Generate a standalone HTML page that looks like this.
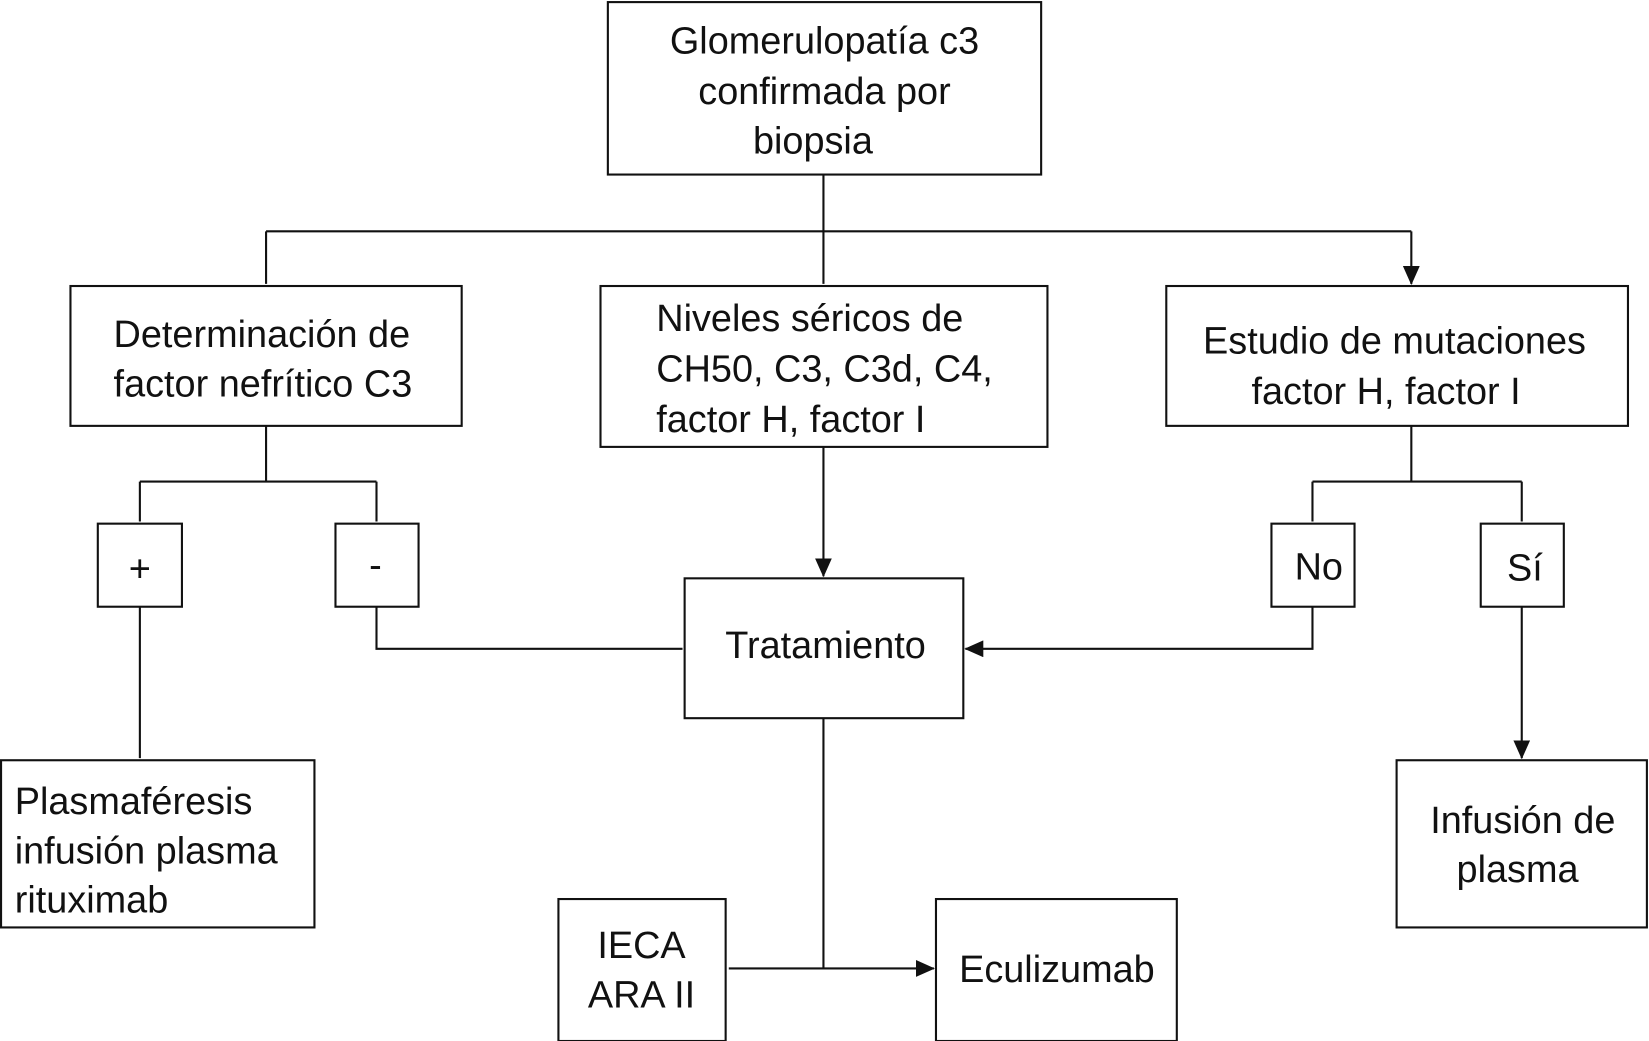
<!DOCTYPE html>
<html><head><meta charset="utf-8"><style>
html,body{margin:0;padding:0;background:#fff;width:1649px;height:1041px;overflow:hidden}
svg{display:block}
text{font-family:"Liberation Sans",Arial,sans-serif;font-size:36px;fill:#111}
</style></head><body>
<svg width="1649" height="1041" viewBox="0 0 1568 990" preserveAspectRatio="none" xmlns="http://www.w3.org/2000/svg">
<defs><marker id="a" markerWidth="10" markerHeight="10" refX="9" refY="5" orient="auto" markerUnits="userSpaceOnUse" viewBox="0 0 10 10"><path d="M0,0 L10,5 L0,10 z" fill="#111"/></marker>
<marker id="b" markerWidth="18" markerHeight="16" refX="17" refY="8" orient="auto" markerUnits="userSpaceOnUse" viewBox="0 0 18 16"><path d="M0,0 L18,8 L0,16 z" fill="#111"/></marker></defs>
<g fill="none" stroke="#111" stroke-width="2">
<rect x="578" y="2" width="412" height="164"/>
<rect x="67" y="272" width="372" height="133"/>
<rect x="571" y="272" width="425" height="153"/>
<rect x="1109" y="272" width="439" height="133"/>
<rect x="93" y="498" width="80" height="79"/>
<rect x="319" y="498" width="79" height="79"/>
<rect x="651" y="550" width="265" height="133"/>
<rect x="1209" y="498" width="79" height="79"/>
<rect x="1408" y="498" width="79" height="79"/>
<rect x="1" y="723" width="298" height="159"/>
<rect x="1328" y="723" width="238" height="159"/>
<rect x="531" y="855" width="159" height="135"/>
<rect x="890" y="855" width="229" height="135"/>
<path d="M783 166V220M253 220H1342"/>
<path d="M253 220V270M783 220V270M1342 220V270" marker-end="url(#b)"/>
<path d="M253 405V458M133 458H358M1342 405V458M1248 458H1447"/>
<path d="M133 458V496M358 458V496M1248 458V496M1447 458V496M783 425V548" marker-end="url(#b)"/>
<path d="M358 577V617H649M1248 577V617H918" marker-end="url(#b)"/>
<path d="M133 577V721M1447 577V721" marker-end="url(#b)"/>
<path d="M783 683V921"/>
<path d="M783 921H693M783 921H888" marker-end="url(#b)"/>
</g>
<g text-anchor="middle">
<text x="784" y="51">Glomerulopatía c3</text>
<text x="784" y="99">confirmada por</text>
<text x="773" y="146">biopsia</text>
<text x="249" y="330">Determinación de</text>
<text x="250" y="377">factor nefrítico C3</text>
<text x="1326" y="336">Estudio de mutaciones</text>
<text x="1318" y="384">factor H, factor I</text>
<text x="133" y="553">+</text>
<text x="357" y="549">-</text>
<text x="1254" y="551">No</text>
<text x="1450" y="552">Sí</text>
<text x="785" y="626">Tratamiento</text>
<text x="1448" y="792">Infusión de</text>
<text x="1443" y="839">plasma</text>
<text x="610" y="911">IECA</text>
<text x="610" y="958">ARA II</text>
<text x="1005" y="934">Eculizumab</text>
</g>
<text x="624" y="315">Niveles séricos de</text>
<text x="624" y="363">CH50, C3, C3d, C4,</text>
<text x="624" y="411">factor H, factor I</text>
<text x="14" y="774">Plasmaféresis</text>
<text x="14" y="821">infusión plasma</text>
<text x="14" y="868">rituximab</text>
</svg>
</body></html>
